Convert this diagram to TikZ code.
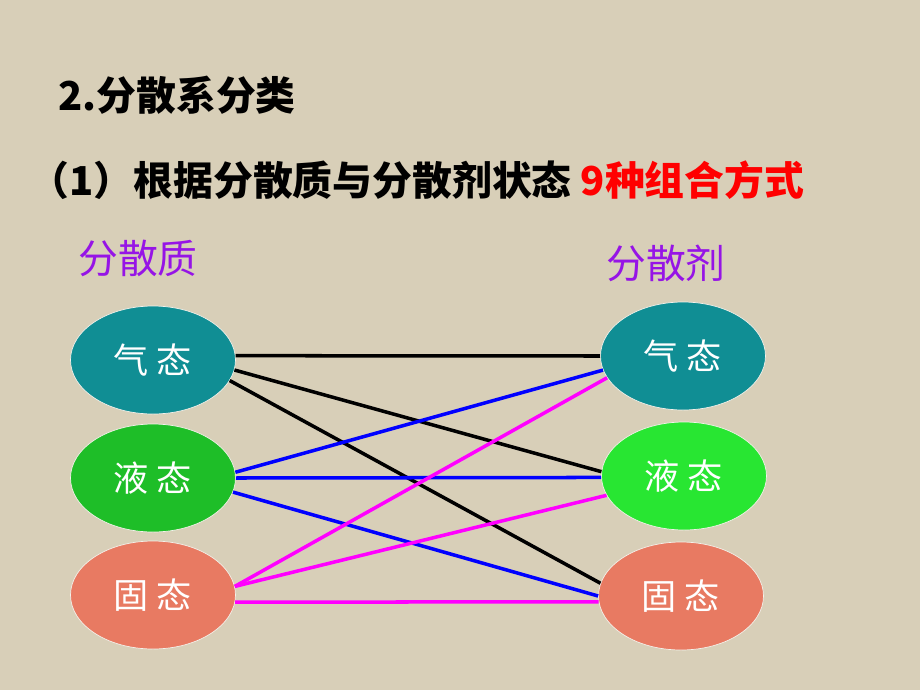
\documentclass[tikz,border=0pt]{standalone}
\usepackage{fontspec}
\setmainfont{Noto Sans CJK SC}
\usetikzlibrary{shapes.geometric}
\definecolor{paper}{RGB}{216,207,184}
\definecolor{gasteal}{RGB}{16,142,148}
\definecolor{liqgreen}{RGB}{30,190,40}
\definecolor{liqlight}{RGB}{40,230,50}
\definecolor{solsalmon}{RGB}{232,122,98}
\definecolor{headpurple}{RGB}{150,20,230}
\definecolor{linkblue}{RGB}{0,0,255}
\definecolor{linkpink}{RGB}{255,0,255}

\begin{document}
\begin{tikzpicture}[x=0.03cm, y=-0.03cm,
    state/.style={ellipse, draw=white!70!paper, line width=0.6pt, inner sep=0pt,
        minimum width=4.95cm, minimum height=3.24cm, text=white,
        font=\fontsize{30}{30}\selectfont},
    head/.style={font=\fontsize{34}{34}\selectfont, text=headpurple},
    link/.style={line width=3pt}]
    % background
    \fill[paper] (0,0) rectangle (920,690);
    \useasboundingbox (0,0) rectangle (920,690);

    % titles
    \node[font=\fontsize{34}{34}\selectfont\bfseries] (title) at (177,95) {2.分散系分类};
    \node[font=\fontsize{34}{34}\selectfont\bfseries] (subtitle) at (417,180)
        {（1）根据分散质与分散剂状态 {\color{red}9种组合方式}};

    % column heads
    \node[head] (phase) at (138,258) {分散质};
    \node[head] (medium) at (666,263) {分散剂};

    % dispersed phase states
    \node[state, fill=gasteal] (lgas) at (153,360) {气 态};
    \node[state, fill=liqgreen] (lliq) at (153,478) {液 态};
    \node[state, fill=solsalmon] (lsol) at (153,595) {固 态};

    % dispersion medium states
    \node[state, fill=gasteal] (rgas) at (683,356) {气 态};
    \node[state, fill=liqlight] (rliq) at (684,476) {液 态};
    \node[state, fill=solsalmon] (rsol) at (681,596) {固 态};

    % the nine combinations
    \foreach \from/\to/\col in {lgas.3/rgas.180/black, lgas.-7/rliq.177/black,
        lgas.-15/rsol.171/black, lliq.4/rgas.190/linkblue, lliq.0/rliq.181/linkblue,
        lliq.-10/rsol.180/linkblue, lsol.6/rgas.196/linkpink, lsol.6/rliq.194/linkpink,
        lsol.-5/rsol.184/linkpink} {
        \draw[link, \col] (\from) -- (\to);
    }
\end{tikzpicture}
\end{document}
